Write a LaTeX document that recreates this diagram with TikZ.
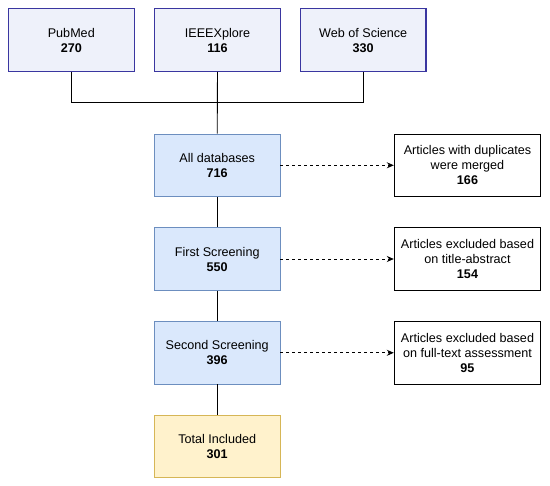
\documentclass[tikz,border=0pt]{standalone}
\usepackage{fontspec}
\setmainfont{Liberation Sans}
\usetikzlibrary{arrows.meta}
\definecolor{dbfill}{HTML}{EEF1FA}
\definecolor{dbdraw}{HTML}{3A36A0}
\definecolor{stfill}{HTML}{DAE8FC}
\definecolor{stdraw}{HTML}{6C8EBF}
\definecolor{tofill}{HTML}{FFF2CC}
\definecolor{todraw}{HTML}{D6B656}
\begin{document}
\begin{tikzpicture}[x=1pt,y=-1pt,
  every node/.style={font=\fontsize{12.6}{15}\selectfont, align=center, inner sep=0pt},
  dbbox/.style={draw=dbdraw, fill=dbfill, line width=1.1pt, minimum width=125.5pt, minimum height=62.5pt},
  stbox/.style={draw=stdraw, fill=stfill, line width=0.8pt, minimum width=125.5pt, minimum height=62.5pt},
  tobox/.style={draw=todraw, fill=tofill, line width=0.8pt, minimum width=125.5pt, minimum height=62.5pt},
  exbox/.style={draw=black, fill=white, line width=0.9pt, minimum width=146.5pt, minimum height=62.5pt},
  conn/.style={draw=black, line width=0.9pt},
  dasharrow/.style={draw=black, line width=0.9pt, dash pattern=on 3pt off 3pt, -{Stealth[length=7pt,width=6pt]}}
]
\useasboundingbox (0,0) rectangle (550,486);
\node[dbbox] (pm) at (71.3,40.2) {PubMed\\\textbf{270}};
\node[dbbox] (ie) at (217.5,40.2) {IEEEXplore\\\textbf{116}};
\node[dbbox] (ws) at (363.2,40.2) {Web of Science\\\textbf{330}};
\node[stbox] (all) at (217.2,165.3) {All databases\\\textbf{716}};
\node[stbox] (fs) at (217.2,259) {First Screening\\\textbf{550}};
\node[stbox] (ss) at (217.2,352.8) {Second Screening\\\textbf{396}};
\node[tobox] (ti) at (217.2,446.6) {Total Included\\\textbf{301}};
\node[exbox] (e1) at (467.5,165.3) {Articles with duplicates\\were merged\\\textbf{166}};
\node[exbox] (e2) at (467.5,259) {Articles excluded based\\on title-abstract\\\textbf{154}};
\node[exbox] (e3) at (467.5,352.8) {Articles excluded based\\on full-text assessment\\\textbf{95}};
\coordinate (jl) at (71.3,102.7);
\coordinate (jr) at (363.2,102.7);
\draw[conn] (pm.south) -- (jl) -- (jr) -- (ws.south);
\draw[conn] (ie.south) -- (all.north);
\draw[conn] (all) -- (fs);
\draw[conn] (fs) -- (ss);
\draw[conn] (ss) -- (ti);
\draw[dasharrow] (all.east) -- (e1.west);
\draw[dasharrow] (fs.east) -- (e2.west);
\draw[dasharrow] (ss.east) -- (e3.west);
\end{tikzpicture}
\end{document}
